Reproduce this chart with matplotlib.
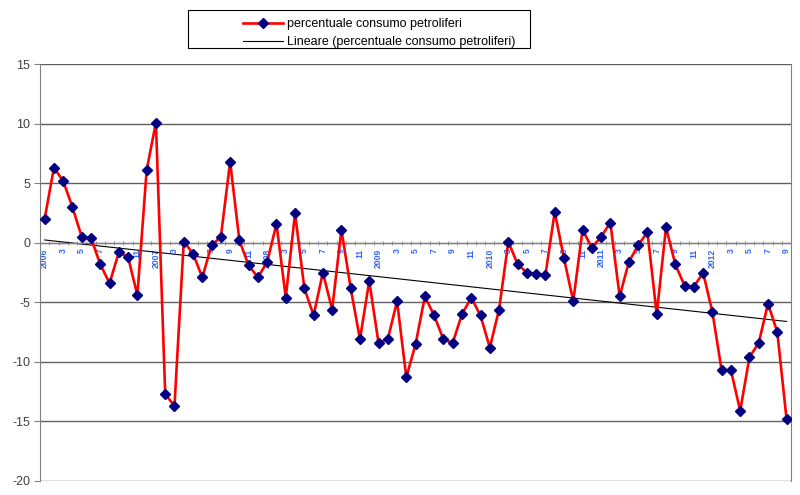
import matplotlib.pyplot as plt
from matplotlib.patches import Rectangle
import numpy as np

plt.rcParams['font.family'] = ['Liberation Sans', 'DejaVu Sans']
plt.rcParams['axes.unicode_minus'] = False

# valori mensili gen 2006 - set 2012
v2006 = [2.0, 6.3, 5.2, 3.0, 0.5, 0.4, -1.8, -3.4, -0.8, -1.2, -4.4, 6.1]
v2007 = [10.1, -12.7, -13.7, 0.1, -0.9, -2.9, -0.2, 0.5, 6.8, 0.2, -1.9, -2.9]
v2008 = [-1.6, 1.6, -4.6, 2.5, -3.8, -6.1, -2.5, -5.6, 1.1, -3.8, -8.1, -3.2]
v2009 = [-8.4, -8.1, -4.9, -11.3, -8.5, -4.5, -6.1, -8.1, -8.4, -6.0, -4.6, -6.1]
v2010 = [-8.8, -5.6, 0.1, -1.8, -2.5, -2.6, -2.7, 2.6, -1.3, -4.9, 1.1, -0.4]
v2011 = [0.5, 1.7, -4.5, -1.6, -0.2, 0.9, -6.0, 1.3, -1.8, -3.6, -3.7, -2.5]
v2012 = [-5.8, -10.7, -10.7, -14.1, -9.6, -8.4, -5.1, -7.5, -14.8]
years = [2006, 2007, 2008, 2009, 2010, 2011, 2012]

values = np.array(v2006 + v2007 + v2008 + v2009 + v2010 + v2011 + v2012)
x = np.arange(len(values))

labels = []
for i in range(len(values)):
    month = i % 12 + 1
    if month == 1:
        labels.append(str(years[i // 12]))
    elif month % 2 == 1:
        labels.append(str(month))
    else:
        labels.append('')

fig = plt.figure(figsize=(8, 4.95), dpi=100)
ax = fig.add_axes([0.05, 0.0283, 0.939, 0.842])

# griglia orizzontale
for g in range(-20, 16, 5):
    ax.axhline(g, color='#606060', lw=1, zorder=0)

# linea di tendenza
coef = np.polyfit(x, values, 1)
ax.plot(x, np.polyval(coef, x), color='black', lw=0.8, zorder=2,
        label='Lineare (percentuale consumo petroliferi)')

ax.plot(x, values, color='#ff0000', lw=1.9, marker='D', markersize=5.5,
        markerfacecolor='#000080', markeredgecolor='#000080', zorder=3,
        label='percentuale consumo petroliferi')

ax.set_xlim(-0.5, len(values) - 0.5)
ax.set_ylim(-20, 15)
ax.set_yticks(range(-20, 16, 5))

ax.spines['top'].set_visible(False)
ax.spines['right'].set_color('#808080')
ax.spines['left'].set_color('#808080')
ax.spines['bottom'].set_position(('data', 0))
ax.spines['bottom'].set_color('#808080')

ax.set_xticks(x)
ax.set_xticklabels(labels, rotation=90, fontsize=6.2, fontweight='bold',
                   color='#3366ff')
ax.set_xticks(np.arange(-0.5, len(values), 1), minor=True)
ax.tick_params(axis='x', which='major', length=0, pad=4)
ax.tick_params(axis='x', which='minor', length=3, direction='inout',
               color='#808080')
ax.tick_params(axis='y', length=4, color='#808080', labelsize=9,
               labelcolor='#404040', pad=3)

# riquadro della legenda
fig.patches.append(Rectangle((188 / 800, 1 - 48 / 495), 342 / 800, 38 / 495,
                             transform=fig.transFigure, facecolor='white',
                             edgecolor='black', lw=0.8))
h, l = ax.get_legend_handles_labels()
leg = fig.legend(h[::-1], l[::-1], loc='upper left',
                 bbox_to_anchor=(237 / 800, 1 - 12 / 495),
                 fontsize=9, frameon=False, borderpad=0, labelspacing=0.45,
                 handlelength=3.2, handletextpad=0.3)

fig.savefig('out.png', dpi=100)
